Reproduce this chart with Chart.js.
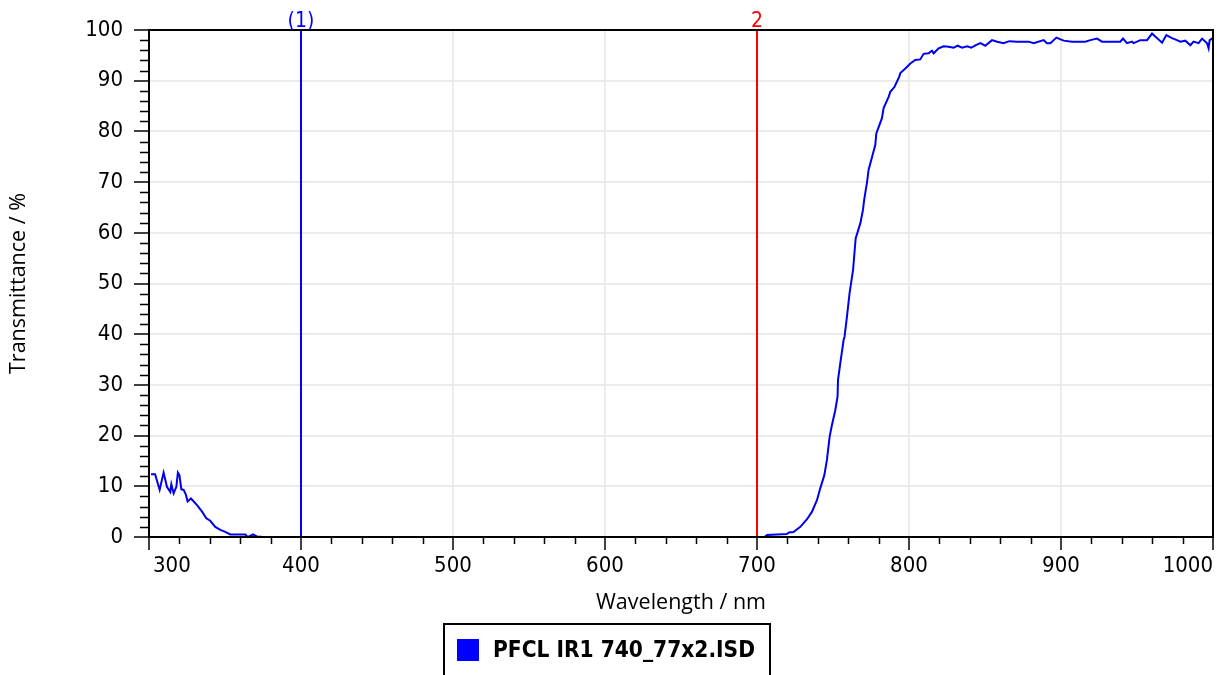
<!DOCTYPE html>
<html lang="en">
<head>
    <meta charset="UTF-8">
    <title>Transmittance spectrum</title>
    <script src="https://cdn.jsdelivr.net/npm/chart.js"></script>
    <style>
        body {
            margin: 0;
            background: #fff;
        }
        .wrap {
            position: relative;
            width: 1219px;
            height: 675px;
            overflow: hidden;
        }
        .legend {
            position: absolute;
            left: 443px;
            top: 623px;
            width: 328px;
            height: 70px;
            border: 2px solid #000;
            box-sizing: border-box;
            font-family: "DejaVu Sans Condensed", "DejaVu Sans", sans-serif;
            font-weight: bold;
            font-size: 22.5px;
        }
        .legend .swatch {
            position: absolute;
            left: 12px;
            top: 14px;
            width: 22px;
            height: 22px;
            background: #0000ff;
        }
        .legend .label {
            position: absolute;
            left: 48px;
            top: 11px;
            white-space: nowrap;
        }
    </style>
</head>
<body>
    <div class="wrap">
        <canvas id="spectrum" width="1219" height="675"></canvas>
        <div class="legend"><span class="swatch"></span><span class="label" id="legend-label"></span></div>
    </div>

    <script>
        const seriesName = 'PFCL IR1 740_77x2.ISD';

        // wavelength (nm) and transmittance (%)
        const wavelengths = [
            301.3, 304, 307, 309.6, 311.8, 314, 314.7, 316.2, 318, 319, 320, 321.3, 322.8, 324.3, 325.4, 327.6,
            331.6, 334.9, 337.7, 340.3, 343.6, 346.9, 350.2, 353.5, 363.4, 364.5, 366, 368.4, 371, 375,
            705, 706.6, 719.7, 721, 724, 728.5, 732.9, 736.2, 739.5, 741.6, 744.3, 746, 747.8, 749.3, 751.5,
            753, 753.3, 754.8, 757, 757.6, 759.2, 760.9, 763.2, 764.9, 768, 769.7, 770.5, 772.4, 773.4, 777.8,
            778.5, 782.2, 783.3, 786.6, 787.7, 790.5, 793.6, 794.3, 797.6, 800.9, 804.1, 807.4, 809.6, 812.9,
            815.1, 816.2, 819.5, 822.8, 826, 829.4, 832, 835, 838.2, 841, 844, 847, 850.2, 854.6, 858, 862.2,
            866, 871, 878.7, 882, 888.6, 890.8, 893, 897, 901.7, 907.2, 916, 919.3, 923.7, 927, 939, 940.8,
            943.4, 946.7, 947.8, 952.2, 956.6, 959.9, 962, 966.5, 969.3, 973, 976.3, 978.5, 981.8, 985.1, 987.2,
            990.5, 992.8, 996.1, 997.1, 997.8, 999.3, 1000
        ];
        const transmittance = [
            12.4, 12.4, 9.3, 12.7, 9.9, 8.9, 10.4, 8.6, 9.9, 12.7, 12.2, 9.4, 9.3, 8.3, 7.0, 7.6,
            6.3, 5.0, 3.7, 3.2, 2.0, 1.4, 1.0, 0.5, 0.5, 0.1, 0.1, 0.5, 0.1, 0,
            0, 0.4, 0.6, 0.9, 1.0, 2.0, 3.5, 5.0, 7.3, 9.6, 12.2, 15.2, 19.8, 22.1, 25.0,
            27.7, 31.0, 34.3, 38.9, 39.5, 43.5, 48.1, 52.7, 58.9, 61.9, 64.5, 66.5, 70.0, 72.4, 77.3,
            79.6, 82.6, 84.6, 86.8, 87.8, 88.8, 90.8, 91.5, 92.4, 93.4, 94.1, 94.2, 95.3, 95.4,
            95.9, 95.4, 96.4, 96.8, 96.7, 96.5, 96.9, 96.5, 96.8, 96.5, 97.0, 97.4, 96.9, 98.0, 97.7, 97.4,
            97.8, 97.7, 97.7, 97.4, 98.0, 97.4, 97.4, 98.5, 97.9, 97.7, 97.7, 98.0, 98.3, 97.7, 97.7, 98.3,
            97.4, 97.7, 97.4, 98.0, 98.0, 99.3, 98.7, 97.5, 99.0, 98.4, 98.0, 97.7, 97.9, 97.0, 97.7,
            97.4, 98.3, 97.4, 96.4, 98.0, 98.3, 98.0
        ];

        // vertical cursor lines
        const markerWavelengths = [400, 700];
        const markerLabels = ['(1)', '2'];
        const markerColors = ['#0000ff', '#ff0000'];

        const xTickValues = [300, 400, 500, 600, 700, 800, 900, 1000];

        const tickFamily = '"DejaVu Sans Condensed", "DejaVu Sans", sans-serif';
        const tickFont = '22px ' + tickFamily;
        const titleFont = '21.5px "Open Sans", sans-serif';

        document.getElementById('legend-label').textContent = seriesName;

        const datasets = [{
            label: seriesName,
            data: wavelengths.map((w, i) => ({ x: w, y: transmittance[i] })),
            borderColor: '#0000ee',
            borderWidth: 2,
            pointRadius: 0,
            tension: 0,
            fill: false
        }];
        markerWavelengths.forEach((w, i) => {
            datasets.push({
                label: markerLabels[i],
                data: [{ x: w, y: 0 }, { x: w, y: 100 }],
                borderColor: markerColors[i],
                borderWidth: 2,
                pointRadius: 0,
                fill: false
            });
        });

        // frame, minor ticks, x labels, axis titles, cursor labels
        const decorations = {
            id: 'decorations',
            afterDraw(chart) {
                const ctx = chart.ctx;
                const area = chart.chartArea;
                const xs = chart.scales.x;
                const ys = chart.scales.y;
                ctx.save();

                // minor ticks
                ctx.strokeStyle = '#000';
                ctx.lineWidth = 1.5;
                ctx.beginPath();
                for (let v = 0; v <= 100; v += 2) {
                    if (v % 10 === 0) continue;
                    const py = Math.round(ys.getPixelForValue(v)) + 0.5;
                    ctx.moveTo(area.left - 9, py);
                    ctx.lineTo(area.left, py);
                }
                for (let w = 300; w <= 1000; w += 20) {
                    if (w % 100 === 0) continue;
                    const px = Math.round(xs.getPixelForValue(w)) + 0.5;
                    ctx.moveTo(px, area.bottom);
                    ctx.lineTo(px, area.bottom + 7);
                }
                ctx.stroke();

                // frame
                ctx.lineWidth = 2;
                ctx.strokeRect(area.left, area.top, area.right - area.left, area.bottom - area.top);

                // x tick labels
                ctx.fillStyle = '#000';
                ctx.font = tickFont;
                ctx.textBaseline = 'middle';
                xTickValues.forEach((w, i) => {
                    const px = xs.getPixelForValue(w);
                    if (i === 0) {
                        ctx.textAlign = 'left';
                        ctx.fillText(String(w), px + 4, 566);
                    } else if (i === xTickValues.length - 1) {
                        ctx.textAlign = 'right';
                        ctx.fillText(String(w), px, 566);
                    } else {
                        ctx.textAlign = 'center';
                        ctx.fillText(String(w), px, 566);
                    }
                });

                // axis titles
                ctx.font = titleFont;
                ctx.textAlign = 'center';
                ctx.fillText('Wavelength / nm', (area.left + area.right) / 2, 603);
                ctx.save();
                ctx.translate(19, (area.top + area.bottom) / 2);
                ctx.rotate(-Math.PI / 2);
                ctx.fillText('Transmittance / %', 0, 0);
                ctx.restore();

                // cursor labels
                ctx.font = '21px ' + tickFamily;
                ctx.textBaseline = 'alphabetic';
                markerWavelengths.forEach((w, i) => {
                    ctx.fillStyle = markerColors[i];
                    ctx.fillText(markerLabels[i], xs.getPixelForValue(w), 27);
                });

                ctx.restore();
            }
        };

        new Chart(document.getElementById('spectrum').getContext('2d'), {
            type: 'line',
            data: { datasets: datasets },
            options: {
                responsive: false,
                animation: false,
                events: [],
                layout: {
                    padding: { left: 0, right: 6, top: 30, bottom: 0 }
                },
                plugins: {
                    legend: { display: false },
                    tooltip: { enabled: false }
                },
                scales: {
                    x: {
                        type: 'linear',
                        min: 300,
                        max: 1000,
                        afterFit: (scale) => {
                            scale.height = 138;
                            scale.paddingLeft = 0;
                            scale.paddingRight = 0;
                        },
                        afterBuildTicks: (scale) => {
                            scale.ticks = xTickValues.map(v => ({ value: v }));
                        },
                        border: { display: false },
                        grid: {
                            color: '#ebebeb',
                            lineWidth: 2,
                            tickColor: '#000',
                            tickLength: 13,
                            tickWidth: 1.5
                        },
                        ticks: {
                            display: false
                        }
                    },
                    y: {
                        min: 0,
                        max: 100,
                        afterFit: (scale) => {
                            scale.width = 149;
                            scale.paddingTop = 0;
                            scale.paddingBottom = 0;
                        },
                        border: { display: false },
                        grid: {
                            color: '#ebebeb',
                            lineWidth: 2,
                            tickColor: '#000',
                            tickLength: 15,
                            tickWidth: 1.5
                        },
                        ticks: {
                            stepSize: 10,
                            padding: 11,
                            color: '#000',
                            font: { family: tickFamily, size: 22 }
                        }
                    }
                }
            },
            plugins: [decorations]
        });
    </script>
</body>
</html>
